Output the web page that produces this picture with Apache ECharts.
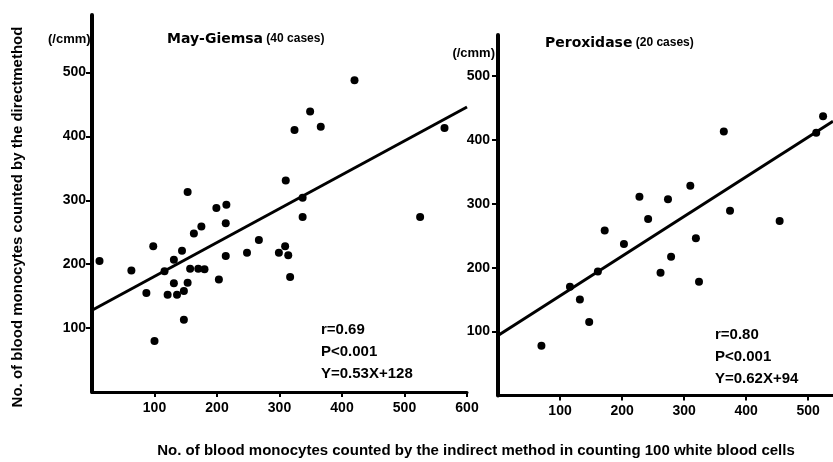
<!DOCTYPE html>
<html>
<head>
<meta charset="utf-8">
<script src="https://cdn.jsdelivr.net/npm/echarts@6/dist/echarts.min.js"></script>
<style>html,body{margin:0;padding:0;background:#fff}#c{width:833px;height:462px}</style>
</head>
<body>
<div id="c"></div>
<script>
// ---- Data ----
const mayGiemsaX = [12, 63, 87, 98, 100, 116, 121, 131, 131, 136, 144, 147, 147, 153, 153, 157, 163, 170, 175, 180, 199, 203, 214, 215, 214, 248, 267, 299, 309, 310, 314, 317, 324, 337, 337, 349, 366, 420, 525, 564];
const mayGiemsaY = [205, 190, 155, 228, 80, 189, 152, 207, 170, 152, 221, 113, 158, 171, 313, 193, 248, 193, 259, 192, 288, 176, 264, 293, 213, 218, 238, 218, 228, 331, 214, 180, 410, 304, 274, 439, 415, 488, 274, 413];
const peroxidaseX = [70, 116, 132, 147, 161, 172, 203, 228, 242, 262, 274, 279, 310, 319, 324, 364, 374, 454, 513, 524];
const peroxidaseY = [78, 170, 150, 115, 194, 258, 237, 311, 276, 192, 307, 217, 328, 246, 178, 413, 289, 273, 411, 437];
const mayGiemsaFitX = [0, 600];
const mayGiemsaFitY = [128, 446];
const peroxidaseFitX = [0, 540];
const peroxidaseFitY = [94, 429];
const leftXTicks = [100, 200, 300, 400, 500, 600];
const leftYTicks = [100, 200, 300, 400, 500];
const rightXTicks = [100, 200, 300, 400, 500];
const rightYTicks = [100, 200, 300, 400, 500];
const leftTitle = 'May-Giemsa';
const leftCases = '(40 cases)';
const rightTitle = 'Peroxidase';
const rightCases = '(20 cases)';
const unitLabel = '(/cmm)';
const yName = 'No. of blood monocytes counted by the directmethod';
const xName = 'No. of blood monocytes counted by the indirect method in counting 100 white blood cells';
const leftStats = ['r=0.69', 'P<0.001', 'Y=0.53X+128'];
const rightStats = ['r=0.80', 'P<0.001', 'Y=0.62X+94'];

const zip = (a, b) => a.map((v, i) => [v, b[i]]);
const FONT = "'Liberation Sans', Arial, sans-serif";
const TFONT = "'DejaVu Sans', sans-serif";

function xAxis(gi, max, ticks) {
  return {
    type: 'value', gridIndex: gi, min: 0, max: max,
    splitLine: { show: false },
    axisLine: { onZero: false, lineStyle: { color: '#000', width: 3 } },
    axisTick: { customValues: ticks, length: 5, lineStyle: { color: '#000', width: 2 } },
    axisLabel: { customValues: ticks, margin: 9, color: '#000', fontSize: 14, fontWeight: 'bold', fontFamily: FONT }
  };
}
function yAxis(gi, max, ticks, margin) {
  return {
    type: 'value', gridIndex: gi, min: 0, max: max,
    splitLine: { show: false },
    axisLine: { onZero: false, lineStyle: { color: '#000', width: 4 } },
    axisTick: { customValues: ticks, length: 6, lineStyle: { color: '#000', width: 2 } },
    axisLabel: { customValues: ticks, margin: margin, color: '#000', fontSize: 14, fontWeight: 'bold', fontFamily: FONT }
  };
}
function statsText(lines, x, y) {
  return lines.map((t, i) => ({
    type: 'text', left: x, top: y + i * 22,
    style: { text: t, fill: '#000', font: "bold 15px " + FONT }
  }));
}

const chart = echarts.init(document.getElementById('c'), null, { renderer: 'canvas' });
chart.setOption({
  backgroundColor: '#fff',
  animation: false,
  grid: [
    { left: 92, top: 15, width: 375, height: 377 },
    { left: 498, top: 35, width: 335, height: 360.5 }
  ],
  xAxis: [xAxis(0, 600, leftXTicks), xAxis(1, 540, rightXTicks)],
  yAxis: [yAxis(0, 590, leftYTicks, 6), yAxis(1, 564, rightYTicks, 8)],
  series: [
    { type: 'scatter', xAxisIndex: 0, yAxisIndex: 0, data: zip(mayGiemsaX, mayGiemsaY), symbolSize: 8, itemStyle: { color: '#000', opacity: 1 } },
    { type: 'line', xAxisIndex: 0, yAxisIndex: 0, data: zip(mayGiemsaFitX, mayGiemsaFitY), symbol: 'none', lineStyle: { color: '#000', width: 3 } },
    { type: 'scatter', xAxisIndex: 1, yAxisIndex: 1, data: zip(peroxidaseX, peroxidaseY), symbolSize: 8, itemStyle: { color: '#000', opacity: 1 } },
    { type: 'line', xAxisIndex: 1, yAxisIndex: 1, data: zip(peroxidaseFitX, peroxidaseFitY), symbol: 'none', lineStyle: { color: '#000', width: 3 } }
  ],
  graphic: [
    { type: 'text', x: 18, y: 217, rotation: Math.PI / 2,
      style: { text: yName, fill: '#000', font: "bold 15px " + FONT, align: 'center', verticalAlign: 'middle' } },
    { type: 'text', x: 476, y: 451,
      style: { text: xName, fill: '#000', font: "bold 15px " + FONT, align: 'center', verticalAlign: 'middle' } },
    { type: 'text', x: 48, y: 39,
      style: { text: unitLabel, fill: '#000', font: "bold 13px " + FONT, align: 'left', verticalAlign: 'middle' } },
    { type: 'text', x: 495, y: 53,
      style: { text: unitLabel, fill: '#000', font: "bold 13px " + FONT, align: 'right', verticalAlign: 'middle' } },
    { type: 'text', x: 167, y: 39,
      style: { text: '{a|' + leftTitle + '} {b|' + leftCases + '}', fill: '#000', verticalAlign: 'middle',
        rich: { a: { font: "bold 14px " + TFONT, fill: '#000' }, b: { font: "bold 12px " + FONT, fill: '#000' } } } },
    { type: 'text', x: 545, y: 43,
      style: { text: '{a|' + rightTitle + '} {b|' + rightCases + '}', fill: '#000', verticalAlign: 'middle',
        rich: { a: { font: "bold 14px " + TFONT, fill: '#000' }, b: { font: "bold 12px " + FONT, fill: '#000' } } } }
  ].concat(statsText(leftStats, 321, 322)).concat(statsText(rightStats, 715, 327))
});
</script>
</body>
</html>
